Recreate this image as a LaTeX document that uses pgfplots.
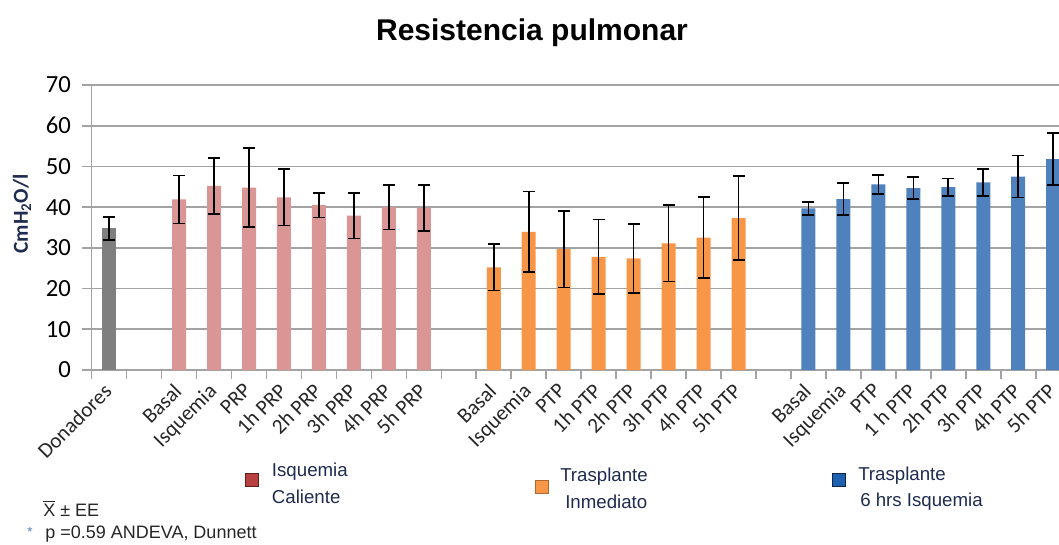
\documentclass[border=0pt]{standalone}
\usepackage{pgfplots}
\pgfplotsset{compat=1.18}
\usepackage{fontspec}
\setmainfont{Liberation Sans}
\newfontfamily\calibri{Carlito}

\definecolor{cgray}{HTML}{7F7F7F}
\definecolor{cpink}{HTML}{D99694}
\definecolor{corange}{HTML}{F79646}
\definecolor{cblue}{HTML}{4F81BD}
\definecolor{gridgray}{HTML}{A3A3A3}
\definecolor{navy}{HTML}{1F2B4F}
\definecolor{legred}{HTML}{B8403E}
\definecolor{legblue}{HTML}{1F5FB0}

\pgfplotsset{
  eb/.style={error bars/.cd, y dir=both, y explicit,
    error bar style={line width=1.2pt, black},
    error mark options={rotate=90, mark size=4.5pt, line width=1.2pt, black}},
}

\begin{document}
\begin{tikzpicture}
\begin{axis}[
  name=ax,
  scale only axis,
  width=725.3pt, height=213.75pt,
  xmin=-0.5, xmax=27.16, ymin=0, ymax=70,
  ybar, bar width=10.5pt, bar shift=0pt,
  axis x line*=bottom, axis y line*=left,
  axis line style={draw=gridgray, line width=1.2pt, -},
  ytick={0,10,...,70},
  ymajorgrids, grid style={draw=gridgray, line width=1.2pt},
  tick align=outside,
  major tick length=7pt,
  tick style={draw=gridgray, line width=1.2pt},
  /pgf/number format/assume math mode=true,
  yticklabel style={font=\calibri\fontsize{18.5}{18.5}\selectfont, text=black, xshift=-5pt},
  xtick={-0.5,0.5,...,27.5}, xticklabels={},
  extra x ticks={0,...,27},
  extra x tick labels={Donadores,,Basal,Isquemia,PRP,1h PRP,2h PRP,3h PRP,4h PRP,5h PRP,,Basal,Isquemia,PTP,1h PTP,2h PTP,3h PTP,4h PTP,5h PTP,,Basal,Isquemia,PTP,1 h PTP,2h PTP,3h PTP,4h PTP,5h PTP},
  extra x tick style={major tick length=0pt,
    xticklabel style={xshift=-5pt, yshift=-7.5pt, rotate=45, anchor=north east, inner sep=1pt,
      font=\calibri\fontsize{16}{16}\selectfont, text=black!85}},
]
\addplot[fill=cgray, draw=none, eb] coordinates {(0,34.8) +- (0,2.8)};
\addplot[fill=cpink, draw=none, eb] coordinates {
  (2,41.9) +- (0,5.9) (3,45.2) +- (0,6.9) (4,44.8) +- (0,9.7) (5,42.4) +- (0,6.9)
  (6,40.5) +- (0,3.0) (7,37.9) +- (0,5.6) (8,40.0) +- (0,5.5) (9,39.8) +- (0,5.7)};
\addplot[fill=corange, draw=none, eb] coordinates {
  (11,25.2) +- (0,5.7) (12,33.9) +- (0,9.9) (13,29.7) +- (0,9.4) (14,27.8) +- (0,9.2)
  (15,27.4) +- (0,8.5) (16,31.1) +- (0,9.4) (17,32.5) +- (0,9.95) (18,37.3) +- (0,10.3)};
\addplot[fill=cblue, draw=none, eb] coordinates {
  (20,39.7) +- (0,1.6) (21,42.0) +- (0,4.0) (22,45.6) +- (0,2.3) (23,44.7) +- (0,2.75)
  (24,44.9) +- (0,2.1) (25,46.1) +- (0,3.3) (26,47.5) +- (0,5.15) (27,51.8) +- (0,6.35)};
\end{axis}

% annotations, placed in reference pixel coordinates
\begin{scope}[shift={(ax.south west)}, x=0.75pt, y=-0.75pt, shift={(-91.7,-370)}]
  \node[anchor=base, font=\fontsize{22.5}{26}\selectfont\bfseries] at (532,40) {Resistencia pulmonar};
  \node[rotate=90, font=\calibri\fontsize{16}{16}\selectfont\bfseries, text=navy] at (22,214) {CmH\textsubscript{2}O/l};

  % legend
  \draw[fill=legred, draw=legred!50!black, line width=0.8pt] (245.2,473.5) rectangle (258.2,486.5);
  \node[anchor=base west, font=\fontsize{14}{14}\selectfont, text=navy, inner sep=0pt] at (271.7,476) {Isquemia};
  \node[anchor=base west, font=\fontsize{14}{14}\selectfont, text=navy, inner sep=0pt] at (271.7,503) {Caliente};

  \draw[fill=corange, draw=corange!70!black, line width=0.8pt] (535.2,480.2) rectangle (548.2,493.2);
  \node[anchor=base west, font=\fontsize{14}{14}\selectfont, text=navy, inner sep=0pt] at (560,481) {Trasplante};
  \node[anchor=base west, font=\fontsize{14}{14}\selectfont, text=navy, inner sep=0pt] at (565,508) {Inmediato};

  \draw[fill=legblue, draw=legblue!40!black, line width=0.8pt] (832.8,473.5) rectangle (845.8,486.5);
  \node[anchor=base west, font=\fontsize{14}{14}\selectfont, text=navy, inner sep=0pt] at (858,480) {Trasplante};
  \node[anchor=base west, font=\fontsize{14}{14}\selectfont, text=navy, inner sep=0pt] at (860,506.5) {6 hrs Isquemia};

  % footnotes
  \node[anchor=base west, font=\fontsize{13.5}{14}\selectfont, text=black!85, inner sep=0pt] at (43,516) {$\overline{\mbox{X}}$ ± EE};
  \node[anchor=base west, font=\fontsize{10}{10}\selectfont, text=cblue, inner sep=0pt] at (27,536) {*};
  \node[anchor=base west, font=\fontsize{13.5}{14}\selectfont, text=black!85, inner sep=0pt] at (45,538.5) {p =0.59 ANDEVA, Dunnett};

  \pgfresetboundingbox
  \path[use as bounding box] (0,0) rectangle (1059,544);
\end{scope}
\end{tikzpicture}
\end{document}
